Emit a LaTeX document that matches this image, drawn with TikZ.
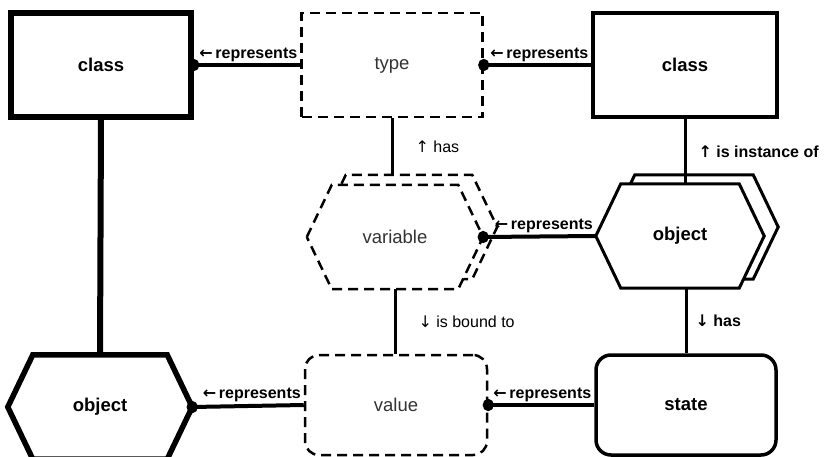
\documentclass[tikz,border=0pt]{standalone}
\usepackage{fontspec}
\setmainfont{Liberation Sans}
\newfontfamily\arrowFont{DejaVu Sans}
\usetikzlibrary{arrows.meta,backgrounds}
\definecolor{modelGray}{HTML}{333333}
\newcommand\hexSlant{25pt}
\newcommand{\dirArrow}[1]{{\arrowFont #1}}
\newcommand{\repText}{\dirArrow{←}\,represents}
\tikzset{
    mainText/.style  = {font=\fontsize{18.5}{22}\selectfont\bfseries},
    modelText/.style = {font=\fontsize{18.5}{22}\selectfont, text=modelGray},
    solidBox/.style  = {rectangle, draw, line width=3.5pt, inner sep=0pt,
                        minimum width=182pt, minimum height=104pt, mainText},
    dashBox/.style   = {rectangle, draw, line width=2.5pt, dash pattern=on 10pt off 6pt,
                        inner sep=0pt, minimum width=181pt, minimum height=104pt, modelText},
    hexNode/.style   = {rectangle, inner sep=0pt, minimum height=104pt},
    hexLine/.style   = {draw, fill=white, line width=3pt, line join=miter},
    hexDash/.style   = {draw, fill=white, line width=2.5pt, dash pattern=on 10pt off 6pt},
    repLink/.style   = {line width=4pt, -{Circle[length=11pt,width=12pt]}, shorten >=-5.5pt},
    repLabel/.style  = {font=\fontsize{16}{19}\selectfont\bfseries, anchor=south east, inner sep=1pt},
    hasLink/.style   = {line width=3pt},
    relLabel/.style  = {font=\fontsize{16}{19}\selectfont, anchor=west, inner sep=0pt}
}
\newcommand{\drawHexagon}[2]{
    \path[#2] (#1.west) -- ([xshift=\hexSlant]#1.north west) -- ([xshift=-\hexSlant]#1.north east)
        -- (#1.east) -- ([xshift=-\hexSlant]#1.south east) -- ([xshift=\hexSlant]#1.south west) -- cycle;
}

\begin{document}
\begin{tikzpicture}[x=1pt, y=-1pt]
  \useasboundingbox (0,0) rectangle (826,457);

  % Draw upper row
  \node [solidBox, line width=5.5pt, minimum width=180pt] (classL) at (101,65) {class};
  \node [dashBox] (type) at (392,65) {type};
  \node [solidBox, minimum width=184pt] (classR) at (685,65) {class};

  % Draw middle row (hexagons with a copy behind)
  \node [hexNode, minimum width=176pt, modelText] (var) at (395,237) {variable};
  \node [hexNode, minimum width=176pt] (varBack) at ([shift={(14,-10)}]var.center) {};
  \node [hexNode, minimum width=168pt, mainText] (objM) at (680,236) {object};
  \node [hexNode, minimum width=168pt] (objMBack) at ([shift={(14,-9)}]objM.center) {};

  % Draw lower row
  \node [hexNode, minimum width=184pt, mainText] (objL) at (100,407) {object};
  \node [dashBox, minimum width=182pt, minimum height=100pt, rounded corners=14pt] (value) at (396,405) {value};
  \node [solidBox, minimum width=180pt, minimum height=100pt, rounded corners=15pt] (state) at (686,405) {state};

  \begin{scope}[on background layer]
    \drawHexagon{varBack}{hexDash}
    \drawHexagon{var}{hexDash}
    \drawHexagon{objMBack}{hexLine}
    \drawHexagon{objM}{hexLine}
    \drawHexagon{objL}{hexLine, line width=5.5pt}
  \end{scope}

  % Draw vertical links
  \draw[hasLink, line width=6pt] (classL.south) -- (objL.north);
  \draw[hasLink] (type.south) -- (type.south |- varBack.north)
      node[midway, relLabel, xshift=22pt] {\dirArrow{↑} has};
  \draw[hasLink] (var.south) -- (var.south |- value.north)
      node[midway, relLabel, xshift=22pt] {\dirArrow{↓} is bound to};
  \draw[hasLink] (classR.south) -- (classR.south |- objM.north)
      node[midway, relLabel, xshift=12pt, font=\fontsize{16}{19}\selectfont\bfseries] {\dirArrow{↑} is instance of};
  \draw[hasLink] (objM.south -| state.north) -- (state.north)
      node[midway, relLabel, xshift=8pt, font=\fontsize{16}{19}\selectfont\bfseries] {\dirArrow{↓} has};

  % Draw represents links
  \foreach \src/\dst in {type/classL, classR/type, objM/var, value/objL, state/value}
    \draw[repLink] (\src.west) -- (\dst.east) node[repLabel, pos=0] {\repText};
\end{tikzpicture}
\end{document}
